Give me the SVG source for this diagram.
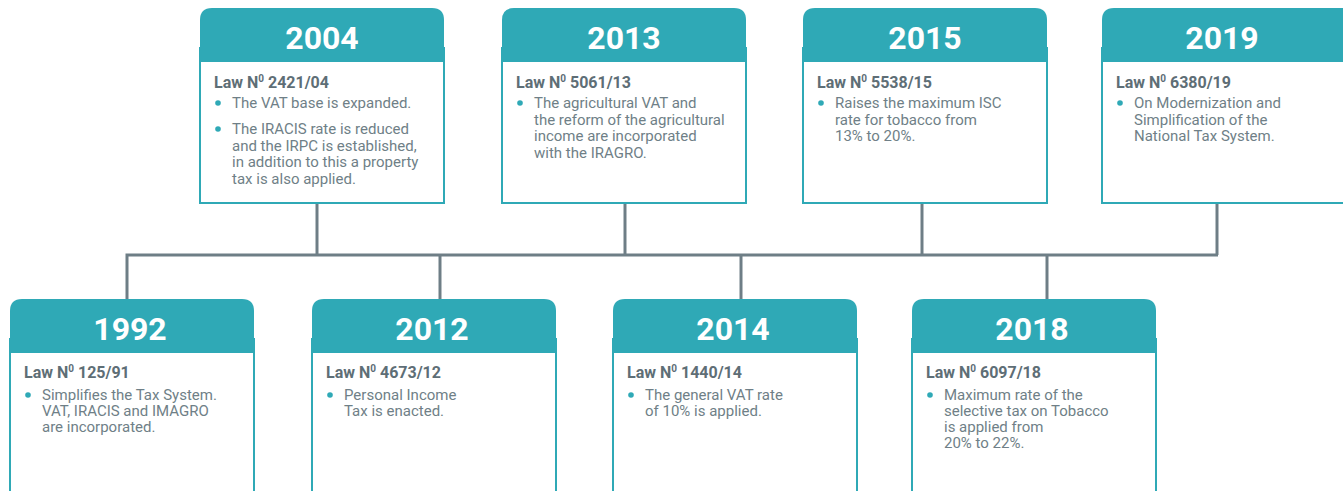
<svg xmlns="http://www.w3.org/2000/svg" width="1343" height="491" viewBox="0 0 1343 491">
  <style>
    .body { fill: #ffffff; stroke: #2fa9b6; stroke-width: 2; }
    .head { fill: #2fa9b6; }
    .year { font-family: Roboto, "Noto Sans", sans-serif; font-weight: 700; font-size: 32px; fill: #ffffff; text-anchor: middle; }
    .law { font-family: Roboto, "Noto Sans", sans-serif; font-weight: 700; font-size: 16px; fill: #5e6e76; }
    .sup { font-size: 10px; }
    .txt { font-family: Roboto, "Noto Sans", sans-serif; font-weight: 400; font-size: 15px; fill: #6f7f87; }
    .dot { fill: #2fa9b6; }
    .wire { fill: none; stroke: #6e7e86; stroke-width: 3; }
  </style>
  <defs>
    <!-- card header with rounded top corners, 244 wide -->
    <path id="cap" d="M0,54 V12 Q0,0 12,0 H232 Q244,0 244,12 V54 Z"/>
  </defs>

  <g id="connectors">
    <polyline class="wire" points="127,299 127,255 1218,255"/>
    <line class="wire" x1="317" y1="203" x2="317" y2="255"/>
    <line class="wire" x1="625" y1="203" x2="625" y2="255"/>
    <line class="wire" x1="922" y1="203" x2="922" y2="255"/>
    <line class="wire" x1="1217" y1="203" x2="1217" y2="255"/>
    <line class="wire" x1="440" y1="255" x2="440" y2="299"/>
    <line class="wire" x1="741" y1="255" x2="741" y2="299"/>
    <line class="wire" x1="1047" y1="255" x2="1047" y2="299"/>
  </g>

  <!-- top row -->
  <g id="y2004" transform="translate(200,8)">
    <rect class="body" x="0" y="40" width="244" height="155"/>
    <use href="#cap" class="head"/>
    <text class="year" x="122" y="41">2004</text>
    <text class="law" x="14" y="80">Law N<tspan class="sup" dy="-6">0</tspan><tspan dy="6"> 2421/04</tspan></text>
    <circle class="dot" cx="18" cy="95" r="2.8"/>
    <text class="txt" x="32" y="100">The VAT base is expanded.</text>
    <circle class="dot" cx="18" cy="121" r="2.8"/>
    <text class="txt" y="126">
      <tspan x="32">The IRACIS rate is reduced</tspan>
      <tspan x="32" dy="16.5">and the IRPC is established,</tspan>
      <tspan x="32" dy="16.5">in addition to this a property</tspan>
      <tspan x="32" dy="16.5">tax is also applied.</tspan>
    </text>
  </g>

  <g id="y2013" transform="translate(502,8)">
    <rect class="body" x="0" y="40" width="244" height="155"/>
    <use href="#cap" class="head"/>
    <text class="year" x="122" y="41">2013</text>
    <text class="law" x="14" y="80">Law N<tspan class="sup" dy="-6">0</tspan><tspan dy="6"> 5061/13</tspan></text>
    <circle class="dot" cx="18" cy="95" r="2.8"/>
    <text class="txt" y="100">
      <tspan x="32">The agricultural VAT and</tspan>
      <tspan x="32" dy="16.5">the reform of the agricultural</tspan>
      <tspan x="32" dy="16.5">income are incorporated</tspan>
      <tspan x="32" dy="16.5">with the IRAGRO.</tspan>
    </text>
  </g>

  <g id="y2015" transform="translate(803,8)">
    <rect class="body" x="0" y="40" width="244" height="155"/>
    <use href="#cap" class="head"/>
    <text class="year" x="122" y="41">2015</text>
    <text class="law" x="14" y="80">Law N<tspan class="sup" dy="-6">0</tspan><tspan dy="6"> 5538/15</tspan></text>
    <circle class="dot" cx="18" cy="95" r="2.8"/>
    <text class="txt" y="100">
      <tspan x="32">Raises the maximum ISC</tspan>
      <tspan x="32" dy="16.5">rate for tobacco from</tspan>
      <tspan x="32" dy="16.5">13% to 20%.</tspan>
    </text>
  </g>

  <g id="y2019" transform="translate(1102,8)">
    <rect class="body" x="0" y="40" width="260" height="155"/>
    <path class="head" d="M0,54 V12 Q0,0 12,0 H260 V54 Z"/>
    <text class="year" x="120" y="41">2019</text>
    <text class="law" x="14" y="80">Law N<tspan class="sup" dy="-6">0</tspan><tspan dy="6"> 6380/19</tspan></text>
    <circle class="dot" cx="18" cy="95" r="2.8"/>
    <text class="txt" y="100">
      <tspan x="32">On Modernization and</tspan>
      <tspan x="32" dy="16.5">Simplification of the</tspan>
      <tspan x="32" dy="16.5">National Tax System.</tspan>
    </text>
  </g>

  <!-- bottom row -->
  <g id="y1992" transform="translate(10,299)">
    <rect class="body" x="0" y="40" width="244" height="220"/>
    <use href="#cap" class="head"/>
    <text class="year" x="120" y="41">1992</text>
    <text class="law" x="14" y="79">Law N<tspan class="sup" dy="-6">0</tspan><tspan dy="6"> 125/91</tspan></text>
    <circle class="dot" cx="18" cy="96" r="2.8"/>
    <text class="txt" y="101">
      <tspan x="32">Simplifies the Tax System.</tspan>
      <tspan x="32" dy="16">VAT, IRACIS and IMAGRO</tspan>
      <tspan x="32" dy="16">are incorporated.</tspan>
    </text>
  </g>

  <g id="y2012" transform="translate(312,299)">
    <rect class="body" x="0" y="40" width="244" height="220"/>
    <use href="#cap" class="head"/>
    <text class="year" x="120" y="41">2012</text>
    <text class="law" x="14" y="79">Law N<tspan class="sup" dy="-6">0</tspan><tspan dy="6"> 4673/12</tspan></text>
    <circle class="dot" cx="18" cy="96" r="2.8"/>
    <text class="txt" y="101">
      <tspan x="32">Personal Income</tspan>
      <tspan x="32" dy="16">Tax is enacted.</tspan>
    </text>
  </g>

  <g id="y2014" transform="translate(613,299)">
    <rect class="body" x="0" y="40" width="244" height="220"/>
    <use href="#cap" class="head"/>
    <text class="year" x="120" y="41">2014</text>
    <text class="law" x="14" y="79">Law N<tspan class="sup" dy="-6">0</tspan><tspan dy="6"> 1440/14</tspan></text>
    <circle class="dot" cx="18" cy="96" r="2.8"/>
    <text class="txt" y="101">
      <tspan x="32">The general VAT rate</tspan>
      <tspan x="32" dy="16">of 10% is applied.</tspan>
    </text>
  </g>

  <g id="y2018" transform="translate(912,299)">
    <rect class="body" x="0" y="40" width="244" height="220"/>
    <use href="#cap" class="head"/>
    <text class="year" x="120" y="41">2018</text>
    <text class="law" x="14" y="79">Law N<tspan class="sup" dy="-6">0</tspan><tspan dy="6"> 6097/18</tspan></text>
    <circle class="dot" cx="18" cy="96" r="2.8"/>
    <text class="txt" y="101">
      <tspan x="32">Maximum rate of the</tspan>
      <tspan x="32" dy="16">selective tax on Tobacco</tspan>
      <tspan x="32" dy="16">is applied from</tspan>
      <tspan x="32" dy="16">20% to 22%.</tspan>
    </text>
  </g>
</svg>
